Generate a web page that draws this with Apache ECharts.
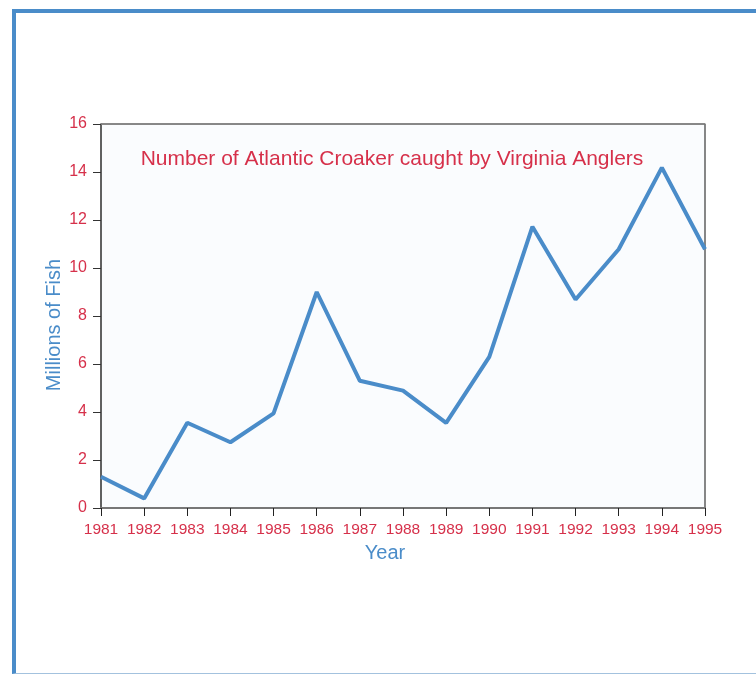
<!DOCTYPE html>
<html>
<head>
<meta charset="utf-8">
<script src="https://cdn.jsdelivr.net/npm/echarts@6/dist/echarts.min.js"></script>
<style>
	html, body { margin: 0; padding: 0; background: #fff; }
	#frame {
		position: absolute; left: 12px; top: 9px; width: 760px; height: 660px;
		border-left: 4px solid #4a8cc9; border-top: 4px solid #4a8cc9; border-bottom: 1px solid #a3c2de;
	}
	#main { position: absolute; left: 0; top: 0; width: 756px; height: 674px; }
</style>
</head>
<body>
<div id="frame"></div>
<div id="main"></div>
<script>
// 年份
const years = ["1981", "1982", "1983", "1984", "1985", "1986", "1987", "1988", "1989", "1990", "1991", "1992", "1993", "1994", "1995"];
// 百万尾
const fishCaught = [1.3, 0.4, 3.55, 2.74, 3.94, 9.0, 5.3, 4.89, 3.55, 6.3, 11.72, 8.69, 10.78, 14.18, 10.78];
const yTicks = [0, 2, 4, 6, 8, 10, 12, 14, 16];

const red = "#d6304a";
const blue = "#4a8cc9";

let myChart = echarts.init(document.getElementById("main"));
let option = {
	backgroundColor: "transparent",
	title: {
		text: "Number of Atlantic Croaker caught by Virginia Anglers",
		left: 387,
		top: 144,
		textAlign: "center",
		textStyle: { color: red, fontSize: 21, fontWeight: "normal", fontFamily: "Liberation Sans" }
	},
	grid: {
		left: 101,
		top: 124,
		right: 51,
		bottom: 166,
		show: true,
		backgroundColor: "#fafcfe",
		borderColor: "#111",
		borderWidth: 1
	},
	xAxis: [
		{
			type: "category",
			boundaryGap: false,
			data: years,
			name: "Year",
			nameLocation: "middle",
			nameGap: 35,
			nameMoveOverlap: false,
			nameTextStyle: { color: blue, fontSize: 20, fontFamily: "Liberation Sans", padding: [0, 36, 0, 0] },
			axisLine: { lineStyle: { color: "#777", width: 2 } },
			axisTick: { length: 8, lineStyle: { color: "#222" } },
			axisLabel: { color: red, fontSize: 15.5, margin: 14, fontFamily: "Liberation Sans", interval: 0 },
			splitLine: { show: false }
		},
		{
			type: "category",
			position: "top",
			boundaryGap: false,
			data: years,
			axisLine: { lineStyle: { color: "#888", width: 1.5 } },
			axisTick: { show: false },
			axisLabel: { show: false }
		}
	],
	yAxis: {
		type: "value",
		min: 0,
		max: 16,
		interval: 2,
		name: "Millions of Fish",
		nameLocation: "middle",
		nameGap: 37,
		nameMoveOverlap: false,
		nameTextStyle: { color: blue, fontSize: 20, fontFamily: "Liberation Sans", padding: [0, 0, 0, -18] },
		axisLine: { show: true, lineStyle: { color: "#555", width: 1.5 } },
		axisTick: { show: true, length: 8, lineStyle: { color: "#333" } },
		axisLabel: {
			color: red, fontSize: 16, margin: 14, fontFamily: "Liberation Sans",
			formatter: v => (yTicks.includes(v) ? String(v) : "")
		},
		splitLine: { show: false }
	},
	series: [
		{
			type: "line",
			data: fishCaught,
			showSymbol: false,
			lineStyle: { color: blue, width: 4 },
			itemStyle: { color: blue },
			clip: false
		}
	]
};
myChart.setOption(option);
</script>
</body>
</html>
